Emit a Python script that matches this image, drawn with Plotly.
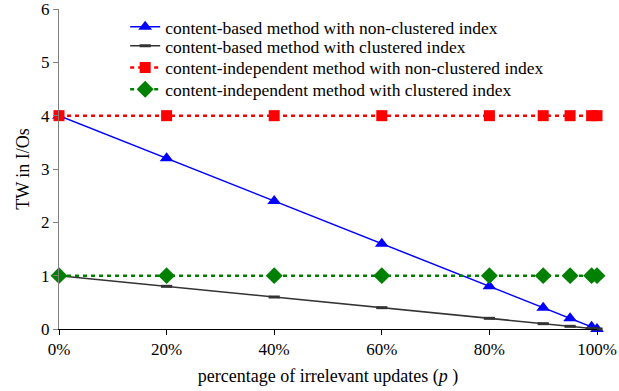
import plotly.graph_objects as go

# fraction of irrelevant updates (p)
p_values = [0.0, 0.2, 0.4, 0.6, 0.8, 0.9, 0.95, 0.99, 1.0]

# transfer work (TW) in I/Os for each method
cb_nonclustered = [4.0, 3.2, 2.4, 1.6, 0.8, 0.4, 0.2, 0.04, 0.0]
cb_clustered = [1.0, 0.8, 0.6, 0.4, 0.2, 0.1, 0.05, 0.01, 0.0]
ci_nonclustered = [4.0, 4.0, 4.0, 4.0, 4.0, 4.0, 4.0, 4.0, 4.0]
ci_clustered = [1.0, 1.0, 1.0, 1.0, 1.0, 1.0, 1.0, 1.0, 1.0]

series_names = [
    "content-based method with non-clustered index",
    "content-based method with clustered index",
    "content-independent method with non-clustered index",
    "content-independent method with clustered index",
]

x_tick_vals = [0.0, 0.2, 0.4, 0.6, 0.8, 1.0]
x_tick_text = ["0%", "20%", "40%", "60%", "80%", "100%"]
y_tick_vals = [0, 1, 2, 3, 4, 5, 6]

FONT = "Liberation Serif, Times New Roman, serif"
LEGEND_FONT_SIZE = 17.5

fig = go.Figure()

fig.add_trace(go.Scatter(
    x=p_values, y=cb_nonclustered, name=series_names[0], mode="lines+markers",
    line=dict(color="#0000FF", width=1.5),
    marker=dict(symbol="triangle-up", size=12, color="#0000FF"),
    legend="legend",
))
fig.add_trace(go.Scatter(
    x=p_values, y=cb_clustered, name=series_names[1], mode="lines+markers",
    line=dict(color="#333333", width=1.5),
    marker=dict(symbol="line-ew", size=8, color="#333333",
                line=dict(color="#333333", width=3)),
    legend="legend2",
))
fig.add_trace(go.Scatter(
    x=p_values, y=ci_nonclustered, name=series_names[2], mode="lines+markers",
    line=dict(color="#FF0000", width=2.5, dash="4px,4px"),
    marker=dict(symbol="square", size=11, color="#FF0000"),
    legend="legend3",
))
fig.add_trace(go.Scatter(
    x=p_values, y=ci_clustered, name=series_names[3], mode="lines+markers",
    line=dict(color="#008000", width=2.5, dash="4px,4px"),
    marker=dict(symbol="diamond", size=13, color="#008000"),
    legend="legend4",
))

fig.update_traces(cliponaxis=False)


def legend_row(y):
    # one legend box per series so the rows sit at an even, tight spacing
    return dict(
        x=0.123, y=y, xanchor="left", yanchor="middle",
        bgcolor="rgba(0,0,0,0)", borderwidth=0,
        font=dict(family=FONT, size=LEGEND_FONT_SIZE, color="black"),
    )


fig.update_layout(
    width=619, height=391,
    margin=dict(l=59, r=22, t=9, b=62, autoexpand=False),
    paper_bgcolor="white", plot_bgcolor="white",
    font=dict(family=FONT, size=17, color="black"),
    showlegend=True,
    legend=legend_row(0.944),
    legend2=legend_row(0.8845),
    legend3=legend_row(0.817),
    legend4=legend_row(0.749),
    xaxis=dict(
        range=[0, 1.0], tickvals=x_tick_vals, ticktext=x_tick_text,
        showgrid=False, zeroline=False, showline=True, linecolor="black",
        linewidth=1, ticks="outside", ticklen=5, tickcolor="black",
        tickfont=dict(family=FONT, size=17), automargin=False,
        ticklabeloverflow="allow",
        title=dict(text="percentage of irrelevant updates (<i>p</i> )",
                   font=dict(family=FONT, size=18), standoff=10),
    ),
    yaxis=dict(
        range=[0, 6], tickvals=y_tick_vals,
        showgrid=False, zeroline=False, showline=True, linecolor="#808080",
        linewidth=1, ticks="outside", ticklen=5, tickcolor="#808080",
        tickfont=dict(family=FONT, size=17), automargin=False,
        ticklabeloverflow="allow",
        title=dict(text="TW in I/Os", font=dict(family=FONT, size=18), standoff=6),
    ),
)

fig.write_html("out.html")
